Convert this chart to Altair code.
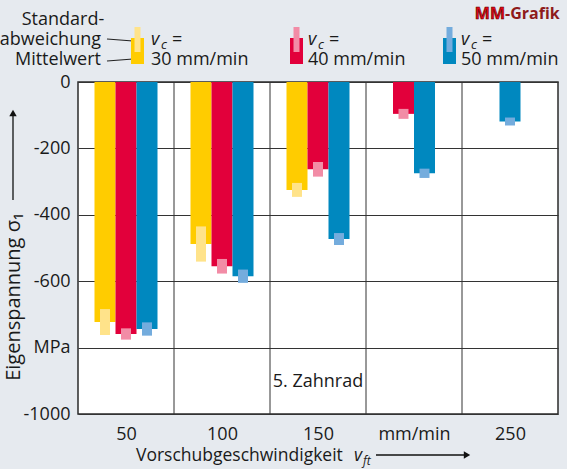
import altair as alt
import pandas as pd

# ---- data ----
feed_rates = [50, 100, 150, 200, 250]
feed_labels = ["50", "100", "150", "mm/min", "250"]
series = [30, 40, 50]
mean_30 = [723, 488, 325, None, None]
mean_40 = [759, 555, 263, 96, None]
mean_50 = [744, 585, 473, 275, 119]
sd_30 = [39, 53, 21, None, None]
sd_40 = [17, 22, 22, 15, None]
sd_50 = [20, 20, 18, 14, 12]
y_ticks = [0, -200, -400, -600, -800, -1000]
y_labels = ["0", "-200", "-400", "-600", "MPa", "-1000"]
col_bounds = [75, 125, 175, 225]
bar_colors = ["#FFCC00", "#E2003B", "#0088BF"]
sd_colors = ["#FFE38A", "#F28CA6", "#74ACDD"]

rows = []
for s, ms, ss in zip(series, [mean_30, mean_40, mean_50], [sd_30, sd_40, sd_50]):
    for f, m, sd in zip(feed_rates, ms, ss):
        if m is not None:
            rows.append({"feed": f, "vc": s, "mean": m, "sd": sd})
df = pd.DataFrame(rows)

FONT = "Open Sans"
INK = "#1a1a1a"
BAR_W = 10.94   # bar width in x-data units (column = 50)
SD_W = 5.2


def ternary(values, labels):
    expr = "datum.label"
    for v, l in zip(values, labels):
        expr = f"datum.value == {v} ? '{l}' : ({expr})"
    return expr


xs = alt.Scale(domain=[25, 275], nice=False, zero=False)
ys = alt.Scale(domain=[-1000, 0], nice=False, zero=False)

x_axis = alt.Axis(values=feed_rates, labelExpr=ternary(feed_rates, feed_labels),
                  grid=False, ticks=False, domain=False, title=None,
                  labelFontSize=18, labelFont=FONT, labelColor=INK, labelPadding=11)
y_axis = alt.Axis(values=y_ticks, labelExpr=ternary(y_ticks, y_labels),
                  grid=True, gridColor="#333333", gridWidth=1, gridOpacity=1,
                  ticks=False, domain=False, title=None,
                  labelFontSize=18, labelFont=FONT, labelColor=INK, labelPadding=8)

base = (
    alt.Chart(df)
    .transform_joinaggregate(n="count()", groupby=["feed"])
    .transform_window(r="rank()", groupby=["feed"], sort=[alt.SortField("vc")])
    .transform_calculate(
        xc=f"datum.feed + (datum.r - (datum.n + 1) / 2) * {BAR_W}",
    )
    .transform_calculate(
        bx1=f"datum.xc - {BAR_W / 2}",
        bx2=f"datum.xc + {BAR_W / 2}",
        ex1=f"datum.xc - {SD_W / 2}",
        ex2=f"datum.xc + {SD_W / 2}",
        neg="-datum.mean",
        lo="-(datum.mean - datum.sd)",
        hi="-(datum.mean + datum.sd)",
    )
)

bars = base.mark_rect().encode(
    x=alt.X("bx1:Q", scale=xs, axis=x_axis),
    x2="bx2:Q",
    y=alt.Y("neg:Q", scale=ys, axis=y_axis),
    y2=alt.datum(0),
    color=alt.Color("vc:N", scale=alt.Scale(domain=series, range=bar_colors), legend=None),
)

rules = alt.Chart(pd.DataFrame({"b": col_bounds})).mark_rule(
    color="#333333", strokeWidth=1
).encode(x=alt.X("b:Q", scale=xs, axis=x_axis))

errs = base.mark_rect().encode(
    x=alt.X("ex1:Q", scale=xs, axis=x_axis),
    x2="ex2:Q",
    y=alt.Y("lo:Q", scale=ys, axis=y_axis),
    y2="hi:Q",
    color=alt.Color("vc:N", scale=alt.Scale(domain=series, range=sd_colors), legend=None),
)

note = alt.Chart(pd.DataFrame({"t": ["5. Zahnrad"], "x": [150], "y": [-905]})).mark_text(
    font=FONT, fontSize=18, color=INK
).encode(x=alt.X("x:Q", scale=xs, axis=x_axis), y=alt.Y("y:Q", scale=ys, axis=y_axis),
         text="t:N")

one = pd.DataFrame({"a": [0]})
OX, OY = 78, 82


def txt(text, X, Y, size=18, align="left", baseline="alphabetic", color=INK, **kw):
    return alt.Chart(one).mark_text(text=text, font=FONT, fontSize=size, align=align,
                                    baseline=baseline, color=color, **kw).encode(
        x=alt.value(X - OX), y=alt.value(Y - OY))


def box(x1, x2, y1, y2, color):
    return alt.Chart(one).mark_rect(color=color).encode(
        x=alt.value(x1 - OX), x2=alt.value(x2 - OX), y=alt.value(y1 - OY), y2=alt.value(y2 - OY))


def line(x1, y1, x2, y2, color="#222222", w=1.2):
    return alt.Chart(one).mark_rule(color=color, strokeWidth=w).encode(
        x=alt.value(x1 - OX), x2=alt.value(x2 - OX), y=alt.value(y1 - OY), y2=alt.value(y2 - OY))


def tri(X, Y, shape, size=55):
    return alt.Chart(one).mark_point(shape=shape, filled=True, size=size, color="#111111",
                                     opacity=1).encode(x=alt.value(X - OX), y=alt.value(Y - OY))


ann = [
    txt("Standard-", 63, 25, align="center"),
    txt("abweichung", 101, 45, align="right"),
    txt("Mittelwert", 101, 65, align="right"),
    line(107, 39, 133, 41),
    line(107, 61, 133, 59),
]
for X0, col, lt, lab in [(131, bar_colors[0], sd_colors[0], "30 mm/min"),
                         (290, bar_colors[1], sd_colors[1], "40 mm/min"),
                         (443, bar_colors[2], sd_colors[2], "50 mm/min")]:
    tx = X0 + 20 if X0 == 131 else X0 + 18
    ann += [
        box(X0, X0 + 13, 38, 64, col),
        box(X0 + 3.5, X0 + 9.5, 27, 52, lt),
        txt("v", tx, 45, fontStyle="italic"),
        txt("c", tx + 10, 49, size=13, fontStyle="italic"),
        txt("=", tx + 21, 45),
        txt(lab, tx, 65),
    ]

ann += [
    txt("MM", 505, 19, size=16, align="right", color="#E30613", fontWeight="bold",
        stroke="#5a0000", strokeWidth=0.6),
    txt("-Grafik", 505, 19, size=16, color="#8E1B1B", fontWeight="bold"),
    # x-axis title
    txt("Vorschubgeschwindigkeit", 136, 461, size=17.5),
    txt("v", 354, 461, size=17.5, fontStyle="italic"),
    txt("ft", 363, 465, size=12, fontStyle="italic"),
    line(376, 455, 464, 455, color="#111111", w=1.3),
    tri(467, 455, "triangle-right"),
    # y-axis title
    alt.Chart(one).mark_text(text="Eigenspannung σ₁", font=FONT, fontSize=20, angle=270,
                             align="center", baseline="middle", color=INK).encode(
        x=alt.value(14 - OX), y=alt.value(297 - OY)),
    line(13, 200, 13, 116, color="#111111", w=1.3),
    tri(13, 113, "triangle-up"),
]

chart = (
    alt.layer(bars, rules, errs, note, *ann)
    .resolve_scale(color="independent")
    .properties(
        width=480, height=332,
        autosize=alt.AutoSizeParams(type="none"),
        padding={"left": 78, "top": 82, "right": 9, "bottom": 55},
    )
    .configure(background="#E6EAEF")
    .configure_view(fill="white", stroke="#2b2b2b", strokeWidth=1.5)
)

chart.save("out.html", embed_options={"renderer": "svg", "actions": False})
